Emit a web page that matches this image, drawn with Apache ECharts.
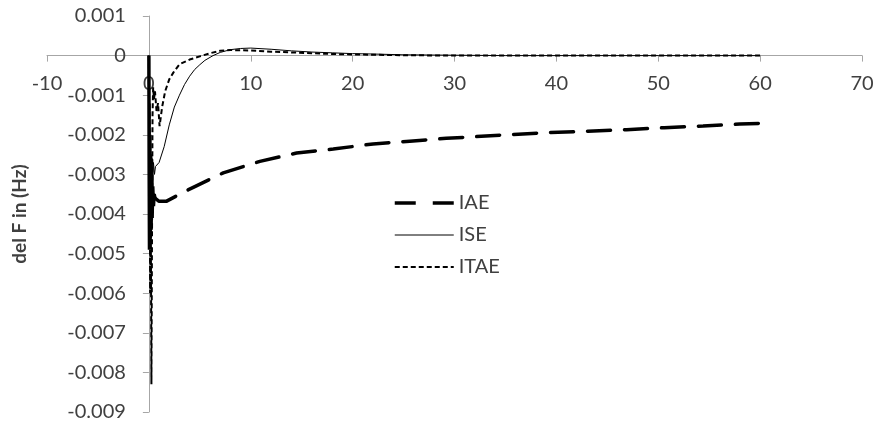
<!DOCTYPE html>
<html>
<head>
<meta charset="utf-8">
<script src="https://cdn.jsdelivr.net/npm/echarts@6/dist/echarts.min.js"></script>
<style>
  html, body { margin: 0; padding: 0; background: #fff; }
  #chart { width: 880px; height: 428px; }
</style>
</head>
<body>
<div id="chart"></div>
<script>
// Frequency deviation responses (time in s, deviation in Hz)
const iaeEarlyT = [0, 0.03, 0.06, 0.10, 0.14, 0.18, 0.22, 0.27, 0.32, 0.38, 0.45, 0.52, 0.60];
const iaeEarlyV = [0, -0.0030, -0.0049, -0.0020, -0.0046, -0.0025, -0.0044, -0.0030, -0.0041, -0.0033, -0.0038, -0.0035, -0.0036];

const iaeT = [0.60, 1.0, 1.7, 4.0, 7.3, 10.9, 14.5, 18.1, 22.0, 25.6, 29.2, 31.8, 35.8, 39.4, 43.1, 46.9, 50.6, 54.4, 58.0, 60.0];
const iaeV = [-0.0036, -0.00368, -0.00368, -0.00337, -0.00296, -0.00267, -0.00246, -0.00236, -0.00223, -0.00216, -0.00209, -0.00205, -0.00199, -0.00194, -0.00191, -0.00187, -0.00182, -0.00178, -0.00173, -0.00171];

const iseT = [0, 0.03, 0.06, 0.10, 0.14, 0.18, 0.22, 0.27, 0.32, 0.38, 0.45, 0.55, 0.65, 0.75, 1.0, 1.5, 2.0, 2.5, 3.0, 3.5, 4.0, 4.5, 5.0, 5.5, 6.3, 7.0, 8.0, 9.0, 10.0, 12.0, 14.0, 16.0, 18.0, 20.0, 22.0, 25.0, 30.0, 35.0, 40.0, 50.0, 60.0];
const iseV = [0, -0.0035, -0.0020, -0.0048, -0.0022, -0.0042, -0.0025, -0.0038, -0.0026, -0.0033, -0.0027, -0.0030, -0.0028, -0.00285, -0.0027, -0.0023, -0.00175, -0.0013, -0.0010, -0.00073, -0.00052, -0.00035, -0.00023, -0.00012, 0, 0.00008, 0.00015, 0.00018, 0.00019, 0.00016, 0.00012, 0.00009, 0.00007, 0.00005, 0.00004, 0.00002, 0.00001, 0, 0, 0, 0];

const itaeT = [0, 0.04, 0.08, 0.12, 0.17, 0.25, 0.30, 0.36, 0.42, 0.50, 0.60, 0.75, 0.90, 1.05, 1.3, 1.6, 2.0, 2.4, 3.0, 4.0, 5.0, 6.0, 7.0, 8.0, 10.0, 12.0, 14.0, 16.0, 18.0, 20.0, 25.0, 30.0, 40.0, 50.0, 60.0];
const itaeV = [0, -0.0040, -0.0012, -0.0060, -0.0030, -0.0083, -0.0050, -0.0015, -0.0008, -0.0011, -0.0009, -0.0014, -0.0012, -0.00178, -0.0013, -0.0009, -0.0006, -0.00043, -0.00022, -0.0001, -0.00002, 0.00006, 0.00012, 0.00014, 0.00013, 0.0001, 0.00008, 0.00006, 0.00004, 0.00003, 0.00001, 0, 0, 0, 0];

const seriesNames = ['IAE', 'ISE', 'ITAE'];
const yAxisTitle = 'del F in (Hz)';

const xMin = -10, xMax = 70, xStep = 10;
const yMin = -0.009, yMax = 0.001, yStep = 0.001;

const pairs = (t, v) => t.map((x, i) => [x, v[i]]);

const FONT = 'Lato, "Liberation Sans", sans-serif';
const TEXT = '#404040';
const AXIS = '#a6a6a6';
const FS = 20;

// line styles per curve
const STYLE = {
  IAE:  { color: '#000', width: 3.5, type: [23, 14], cap: 'round' },
  ISE:  { color: '#000', width: 1, type: 'solid' },
  ITAE: { color: '#000', width: 2, type: [5, 3] }
};

// plot box
const G = { left: 47, right: 18, top: 16, bottom: 16 };
const W = 880 - G.left - G.right;
const H = 428 - G.top - G.bottom;
// the axes cross at x = 0 and y = 0: shift each axis inward from the grid edge
const xAxisOffset = -H * (0 - yMin) / (yMax - yMin);
const yAxisOffset = -W * (0 - xMin) / (xMax - xMin);

const chart = echarts.init(document.getElementById('chart'), null, { renderer: 'canvas' });

chart.setOption({
  animation: false,
  backgroundColor: '#ffffff',
  color: ['#000'],
  grid: Object.assign({ outerBoundsMode: 'none', containLabel: false }, G),
  legend: {
    data: [
      { name: seriesNames[0], lineStyle: { color: '#000', width: 3.5, type: [21, 17], cap: 'butt' } },
      { name: seriesNames[1], lineStyle: { color: '#000', width: 1, type: 'solid' } },
      { name: seriesNames[2], lineStyle: { color: '#000', width: 2, type: [5, 3] } }
    ],
    orient: 'vertical',
    left: 388,
    top: 188,
    itemWidth: 59,
    itemHeight: 14,
    itemGap: 12,
    itemStyle: { opacity: 0 },
    textStyle: { fontFamily: FONT, fontSize: FS, color: TEXT }
  },
  xAxis: {
    type: 'value',
    position: 'bottom',
    offset: xAxisOffset,
    min: xMin, max: xMax, interval: xStep,
    axisLine: { onZero: false, lineStyle: { color: AXIS, width: 1 } },
    axisTick: { show: true, length: 6, lineStyle: { color: AXIS } },
    axisLabel: { fontFamily: FONT, fontSize: FS, color: TEXT, margin: 18 },
    splitLine: { show: false }
  },
  yAxis: {
    type: 'value',
    position: 'left',
    offset: yAxisOffset,
    min: yMin, max: yMax, interval: yStep,
    name: yAxisTitle,
    nameLocation: 'middle',
    nameGap: 120,
    nameTextStyle: { fontFamily: FONT, fontSize: 19, fontWeight: 'bold', color: TEXT },
    axisLine: { onZero: false, lineStyle: { color: AXIS, width: 1 } },
    axisTick: { show: true, length: 6, lineStyle: { color: AXIS } },
    axisLabel: {
      fontFamily: FONT, fontSize: FS, color: TEXT, margin: 23,
      formatter: v => String(Math.round(v * 1000) / 1000)
    },
    splitLine: { show: false }
  },
  series: [
    {
      name: 'IAE', type: 'line', showSymbol: false, symbol: 'none',
      data: pairs(iaeT, iaeV), z: 3,
      itemStyle: { color: '#000' },
      lineStyle: STYLE.IAE
    },
    {
      name: 'IAE transient', type: 'line', showSymbol: false, symbol: 'none',
      data: pairs(iaeEarlyT, iaeEarlyV), z: 3,
      itemStyle: { color: '#000' },
      lineStyle: { color: '#000', width: 3.5, type: 'solid' }
    },
    {
      name: 'ISE', type: 'line', showSymbol: false, symbol: 'none',
      data: pairs(iseT, iseV), z: 2,
      itemStyle: { color: '#000' },
      lineStyle: STYLE.ISE
    },
    {
      name: 'ITAE', type: 'line', showSymbol: false, symbol: 'none',
      data: pairs(itaeT, itaeV), z: 2,
      itemStyle: { color: '#000' },
      lineStyle: STYLE.ITAE
    }
  ]
});
</script>
</body>
</html>
